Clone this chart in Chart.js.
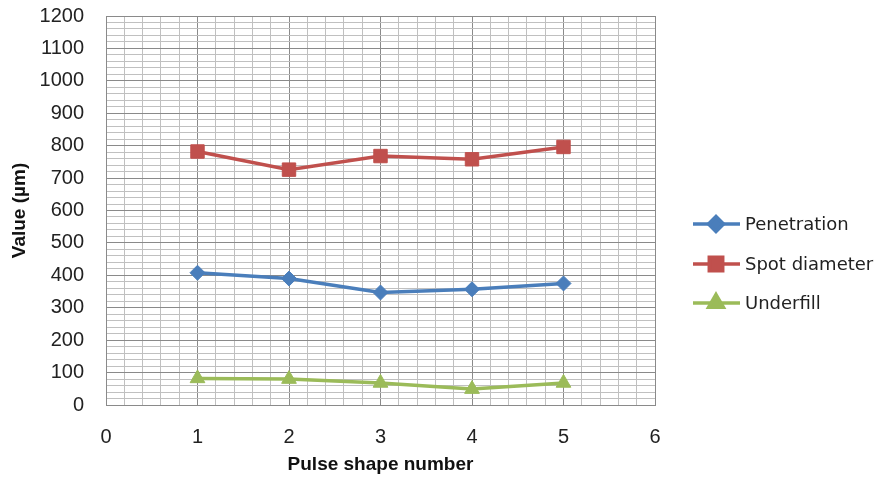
<!DOCTYPE html>
<html>
<head>
<meta charset="utf-8">
<script src="https://cdn.jsdelivr.net/npm/chart.js@4.4.1/dist/chart.umd.min.js"></script>
<style>
  html, body { margin: 0; padding: 0; background: #fff; }
  #wrap { width: 878px; height: 480px; }
</style>
</head>
<body>
<div id="wrap"><canvas id="chart" width="878" height="480"></canvas></div>
<script>
// Datos
const pulseShapes = [1, 2, 3, 4, 5];
const penetration = [408, 390, 347, 357, 375];
const spotDiameter = [782, 726, 768, 758, 796];
const underfill = [82, 80, 68, 49, 68];
const seriesNames = ["Penetration", "Spot diameter", "Underfill"];

const colors = ["#4a7ebb", "#c0504d", "#9bbb59"];
const markers = ["rectRot", "rect", "triangle"];
const markerSizes = [7.5, 9.5, 8.5];

function toPoints(values) {
  return pulseShapes.map((x, i) => ({ x: x, y: values[i] }));
}

function isWhole(v, step) {
  return Math.abs(v / step - Math.round(v / step)) < 1e-6;
}

// Leyenda dibujada a mano: línea + marcador, como en Excel
const excelLegend = {
  id: "excelLegend",
  afterDraw(chart) {
    const ctx = chart.ctx;
    const rows = [224, 264, 303];
    chart.data.datasets.forEach((ds, i) => {
      const y = rows[i];
      ctx.save();
      ctx.strokeStyle = ds.borderColor;
      ctx.lineWidth = 3.5;
      ctx.beginPath();
      ctx.moveTo(693, y);
      ctx.lineTo(740, y);
      ctx.stroke();
      ctx.fillStyle = ds.backgroundColor;
      Chart.helpers.drawPoint(ctx, {
        pointStyle: ds.pointStyle,
        radius: ds.pointRadius,
        borderWidth: 1
      }, 716, y);
      ctx.fillStyle = "#222";
      ctx.font = "18px 'DejaVu Sans'";
      ctx.textBaseline = "middle";
      ctx.fillText(ds.label, 745, y + 1);
      ctx.restore();
    });
  }
};

const datasets = [penetration, spotDiameter, underfill].map((values, i) => ({
  label: seriesNames[i],
  data: toPoints(values),
  borderColor: colors[i],
  backgroundColor: colors[i],
  borderWidth: 3.5,
  pointStyle: markers[i],
  pointRadius: markerSizes[i],
  pointHoverRadius: markerSizes[i],
  pointBorderWidth: 1,
  tension: 0
}));

new Chart(document.getElementById("chart"), {
  type: "line",
  data: { datasets },
  plugins: [excelLegend],
  options: {
    responsive: false,
    animation: false,
    layout: { padding: { top: 0, right: 223, bottom: 0, left: 0 } },
    plugins: {
      legend: { display: false },
      tooltip: { enabled: false }
    },
    scales: {
      x: {
        type: "linear",
        min: 0,
        max: 6,
        afterFit: (scale) => { scale.height = 75; },
        ticks: {
          stepSize: 0.2,
          autoSkip: false,
          maxRotation: 0,
          padding: 20,
          color: "#222",
          font: { family: "'Liberation Sans', Arial", size: 20 },
          callback: (v) => (isWhole(v, 1) ? Math.round(v) : "")
        },
        grid: {
          drawTicks: false,
          lineWidth: 1,
          color: (c) => (c.tick && isWhole(c.tick.value, 1) ? "#8a8a8a" : "#c0c0c0")
        },
        border: { color: "#8a8a8a" },
        title: {
          display: true,
          text: "Pulse shape number",
          color: "#111",
          font: { family: "'Liberation Sans', Arial", size: 19, weight: "bold" },
          padding: { top: 6 }
        }
      },
      y: {
        type: "linear",
        min: 0,
        max: 1200,
        afterFit: (scale) => {
          scale.width = 106;
          scale.paddingTop = 16;
          scale.paddingBottom = 0;
        },
        ticks: {
          stepSize: 20,
          autoSkip: false,
          padding: 22,
          color: "#222",
          font: { family: "'Liberation Sans', Arial", size: 20 },
          callback: (v) => (isWhole(v, 100) ? Math.round(v) : "")
        },
        grid: {
          drawTicks: false,
          lineWidth: 1,
          color: (c) => (c.tick && isWhole(c.tick.value, 100) ? "#8a8a8a" : "#c0c0c0")
        },
        border: { color: "#8a8a8a" },
        title: {
          display: true,
          text: "Value (µm)",
          color: "#111",
          font: { family: "'Liberation Sans', Arial", size: 19, weight: "bold" },
          padding: { top: 8, bottom: 0 }
        }
      }
    }
  }
});
</script>
</body>
</html>
